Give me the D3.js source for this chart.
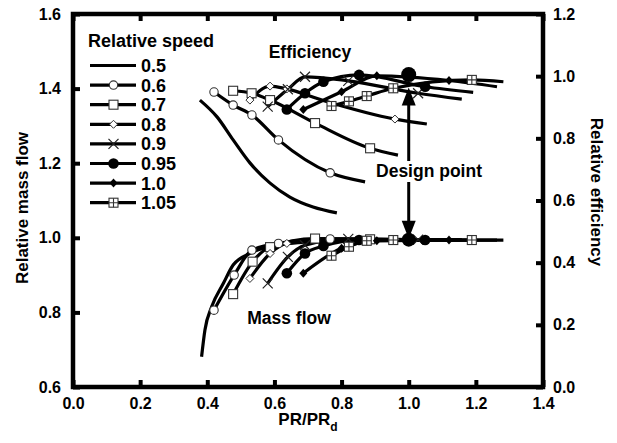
<html lang="en">
  <head>
    <meta charset="utf-8">
    <script src="https://d3js.org/d3.v7.min.js"></script>
    <style type="text/css">
body {
  margin: 0;
  background: white;
}

text {
  font-family: "Liberation Sans", Arial, Helvetica, sans-serif;
  font-weight: bold;
  fill: black;
}
    </style>
  </head>
  <body>
    <div id="chart"></div>

    <script type="text/javascript">
const width = 617;
const height = 443;
const margin = {top: 14, right: 74, bottom: 56, left: 73};

// one entry per relative speed
const speeds = ["0.5", "0.6", "0.7", "0.8", "0.9", "0.95", "1.0", "1.05"];
const symbols = ["none", "circle", "square", "diamond", "cross", "dot", "fdiamond", "squareplus"];

// efficiency curves (PR/PRd, relative efficiency)
const effPR = [
  [0.378, 0.429, 0.477, 0.527, 0.587, 0.646, 0.715, 0.786],
  [0.42, 0.477, 0.533, 0.612, 0.766, 0.87],
  [0.477, 0.532, 0.587, 0.721, 0.885, 0.968],
  [0.527, 0.587, 0.637, 0.745, 0.959, 1.054],
  [0.58, 0.64, 0.691, 0.82, 1.028, 1.158],
  [0.637, 0.691, 0.746, 0.852, 1.049, 1.192],
  [0.686, 0.80, 0.905, 1.12, 1.263],
  [0.77, 0.822, 0.875, 0.954, 1.188, 1.282]
];
const effVal = [
  [0.923, 0.869, 0.795, 0.721, 0.656, 0.611, 0.579, 0.560],
  [0.949, 0.907, 0.875, 0.795, 0.689, 0.660],
  [0.953, 0.945, 0.923, 0.849, 0.768, 0.746],
  [0.923, 0.968, 0.959, 0.922, 0.862, 0.846],
  [0.902, 0.958, 0.998, 0.985, 0.945, 0.926],
  [0.893, 0.945, 0.982, 1.004, 0.966, 0.948],
  [0.893, 0.950, 1.001, 0.986, 0.966],
  [0.904, 0.919, 0.936, 0.961, 0.988, 0.982]
];
// indices of measured points (the rest is only the fitted line)
const effMeasured = [[], [0, 1, 2, 3, 4], [0, 1, 2, 3, 4], [0, 1, 2, 4],
  [0, 1, 2, 3, 4], [0, 1, 2, 3, 4], [0, 1, 2, 3], [0, 1, 2, 3, 4]];

// mass flow curves (PR/PRd, relative mass flow)
const massPR = [
  [0.383, 0.393, 0.413, 0.448, 0.477, 0.527, 0.617, 0.716, 0.786],
  [0.42, 0.48, 0.533, 0.612, 0.766, 0.87],
  [0.477, 0.535, 0.587, 0.721, 0.885, 0.968],
  [0.527, 0.587, 0.637, 0.959, 1.054],
  [0.58, 0.64, 0.691, 0.82, 1.028, 1.158],
  [0.637, 0.691, 0.746, 0.852, 1.049, 1.192],
  [0.686, 0.80, 0.905, 1.12, 1.263],
  [0.77, 0.822, 0.875, 0.954, 1.188, 1.282]
];
const massVal = [
  [0.681, 0.753, 0.815, 0.878, 0.927, 0.958, 0.981, 0.992, 0.995],
  [0.806, 0.900, 0.967, 0.985, 0.997, 0.995],
  [0.849, 0.936, 0.975, 0.998, 0.996, 0.995],
  [0.891, 0.958, 0.985, 0.996, 0.995],
  [0.878, 0.949, 0.980, 0.997, 0.995, 0.995],
  [0.905, 0.958, 0.978, 0.994, 0.994, 0.994],
  [0.905, 0.972, 0.992, 0.994, 0.994],
  [0.952, 0.976, 0.992, 0.994, 0.994, 0.994]
];
const massMeasured = [[], [0, 1, 2, 3, 4], [0, 1, 2, 3, 4], [0, 1, 2, 3],
  [0, 1, 2, 3, 4], [0, 1, 2, 3, 4], [0, 1, 2, 3], [0, 1, 2, 3, 4]];

const designPR = 1.0;
const designEff = 1.005;
const designMass = 0.995;

const xTicks = [0, 0.2, 0.4, 0.6, 0.8, 1.0, 1.2, 1.4];
const massTicks = [0.6, 0.8, 1.0, 1.2, 1.4, 1.6];
const effTicks = [0, 0.2, 0.4, 0.6, 0.8, 1.0, 1.2];

let x = d3.scaleLinear()
  .domain([0, 1.4])
  .range([margin.left, width - margin.right]);

let yMass = d3.scaleLinear()
  .domain([0.6, 1.6])
  .range([height - margin.bottom, margin.top]);

let yEff = d3.scaleLinear()
  .domain([0, 1.2])
  .range([height - margin.bottom, margin.top]);

function drawMarker(g, type, cx, cy) {
  let m = g.append("g").attr("transform", `translate(${cx},${cy})`);
  if (type == "circle") {
    m.append("circle").attr("r", 4.2)
      .attr("fill", "white").attr("stroke", "#333").attr("stroke-width", 1.1);
  } else if (type == "square") {
    m.append("rect").attr("x", -4.5).attr("y", -4.5).attr("width", 9).attr("height", 9)
      .attr("fill", "white").attr("stroke", "#333").attr("stroke-width", 1.1);
  } else if (type == "diamond") {
    m.append("path").attr("d", "M0,-4L4,0L0,4L-4,0Z")
      .attr("fill", "white").attr("stroke", "#333").attr("stroke-width", 1);
  } else if (type == "cross") {
    m.append("path").attr("d", "M-5,-5L5,5M-5,5L5,-5")
      .attr("stroke", "#222").attr("stroke-width", 1.2);
  } else if (type == "dot") {
    m.append("circle").attr("r", 5.3).attr("fill", "black");
  } else if (type == "fdiamond") {
    m.append("path").attr("d", "M0,-4.5L4,0L0,4.5L-4,0Z").attr("fill", "black");
  } else if (type == "squareplus") {
    m.append("rect").attr("x", -4.5).attr("y", -4.5).attr("width", 9).attr("height", 9)
      .attr("fill", "white").attr("stroke", "#333").attr("stroke-width", 1.1);
    m.append("path").attr("d", "M0,-4.5V4.5M-4.5,0H4.5")
      .attr("stroke", "#333").attr("stroke-width", 1.1);
  }
}

let svg = d3.select("#chart").append("svg")
  .attr("width", width)
  .attr("height", height);

// curves
let effLine = d3.line()
  .x(d => x(d[0]))
  .y(d => yEff(d[1]))
  .curve(d3.curveMonotoneX);

let massLine = d3.line()
  .x(d => x(d[0]))
  .y(d => yMass(d[1]))
  .curve(d3.curveMonotoneX);

let effSeries = speeds.map((s, i) => effPR[i].map((p, j) => [p, effVal[i][j]]));
let massSeries = speeds.map((s, i) => massPR[i].map((p, j) => [p, massVal[i][j]]));

svg.append("g")
  .selectAll("path")
  .data(effSeries)
  .join("path")
    .attr("fill", "none")
    .attr("stroke", "black")
    .attr("stroke-width", 3.2)
    .attr("d", effLine);

svg.append("g")
  .selectAll("path")
  .data(massSeries)
  .join("path")
    .attr("fill", "none")
    .attr("stroke", "black")
    .attr("stroke-width", 3.2)
    .attr("d", massLine);

// markers
let marks = svg.append("g");
speeds.forEach((s, i) => {
  effMeasured[i].forEach(j => drawMarker(marks, symbols[i], x(effPR[i][j]), yEff(effVal[i][j])));
  massMeasured[i].forEach(j => drawMarker(marks, symbols[i], x(massPR[i][j]), yMass(massVal[i][j])));
});

// design point
marks.append("circle")
  .attr("cx", x(designPR)).attr("cy", yEff(designEff)).attr("r", 7.5).attr("fill", "black");
marks.append("circle")
  .attr("cx", x(designPR)).attr("cy", yMass(designMass)).attr("r", 7).attr("fill", "black");

// design point arrows
let ax = x(designPR);
let topTip = yEff(designEff) + 13;
let botTip = yMass(designMass) - 1;
svg.append("line")
  .attr("x1", ax).attr("x2", ax)
  .attr("y1", topTip + 10).attr("y2", botTip - 10)
  .attr("stroke", "black").attr("stroke-width", 3);
svg.append("path")
  .attr("d", `M${ax},${topTip}L${ax + 7},${topTip + 18}L${ax - 7},${topTip + 18}Z`)
  .attr("fill", "black");
svg.append("path")
  .attr("d", `M${ax},${botTip}L${ax + 7},${botTip - 18}L${ax - 7},${botTip - 18}Z`)
  .attr("fill", "black");

svg.append("rect")
  .attr("x", 372).attr("y", 161).attr("width", 114).attr("height", 21)
  .attr("fill", "white");
svg.append("text")
  .attr("x", 429).attr("y", 177)
  .attr("text-anchor", "middle")
  .attr("font-size", 17.5)
  .text("Design point");

svg.append("text")
  .attr("x", 310).attr("y", 58)
  .attr("text-anchor", "middle")
  .attr("font-size", 17.5)
  .text("Efficiency");

svg.append("text")
  .attr("x", 289).attr("y", 324)
  .attr("text-anchor", "middle")
  .attr("font-size", 17.5)
  .text("Mass flow");

// legend
let legend = svg.append("g");
legend.append("text")
  .attr("x", 88).attr("y", 47)
  .attr("font-size", 18)
  .text("Relative speed");

speeds.forEach((s, i) => {
  let ly = 65.5 + i * 19.6;
  legend.append("line")
    .attr("x1", 90).attr("x2", 136)
    .attr("y1", ly).attr("y2", ly)
    .attr("stroke", "black").attr("stroke-width", 3.2);
  drawMarker(legend, symbols[i], 113.5, ly);
  legend.append("text")
    .attr("x", 141).attr("y", ly)
    .attr("dy", "0.36em")
    .attr("font-size", 18)
    .text(s);
});

// axes
let fmt = d3.format(".1f");

let styleAxis = g => g
  .call(g => g.select(".domain").remove())
  .call(g => g.selectAll(".tick line").attr("stroke-width", 4))
  .call(g => g.selectAll(".tick text")
    .attr("font-size", 16)
    .attr("font-family", null)
    .attr("fill", "black"));

svg.append("g")
  .attr("transform", `translate(0,${height - margin.bottom})`)
  .call(d3.axisBottom(x).tickValues(xTicks).tickFormat(fmt).tickSizeInner(-7).tickSizeOuter(0).tickPadding(11))
  .call(styleAxis);

svg.append("g")
  .attr("transform", `translate(0,${margin.top})`)
  .call(d3.axisTop(x).tickValues(xTicks).tickFormat("").tickSizeInner(-7).tickSizeOuter(0))
  .call(styleAxis);

svg.append("g")
  .attr("transform", `translate(${margin.left},0)`)
  .call(d3.axisLeft(yMass).tickValues(massTicks).tickFormat(fmt).tickSizeInner(-7).tickSizeOuter(0).tickPadding(12))
  .call(styleAxis);

svg.append("g")
  .attr("transform", `translate(${width - margin.right},0)`)
  .call(d3.axisRight(yEff).tickValues(effTicks).tickFormat(fmt).tickSizeInner(-7).tickSizeOuter(0).tickPadding(10))
  .call(styleAxis);

svg.append("rect")
  .attr("x", margin.left).attr("y", margin.top)
  .attr("width", width - margin.left - margin.right)
  .attr("height", height - margin.top - margin.bottom)
  .attr("fill", "none")
  .attr("stroke", "black")
  .attr("stroke-width", 4.5);

// axis titles
svg.append("text")
  .attr("transform", "translate(28,208) rotate(-90)")
  .attr("text-anchor", "middle")
  .attr("font-size", 17)
  .text("Relative mass flow");

svg.append("text")
  .attr("transform", "translate(591,192) rotate(90)")
  .attr("text-anchor", "middle")
  .attr("font-size", 17)
  .text("Relative efficiency");

let xt = svg.append("text")
  .attr("x", (margin.left + width - margin.right) / 2)
  .attr("y", 425)
  .attr("text-anchor", "middle")
  .attr("font-size", 17);
xt.append("tspan").text("PR/PR");
xt.append("tspan").attr("dy", 6).attr("font-size", 12).text("d");
    </script>
  </body>
</html>
